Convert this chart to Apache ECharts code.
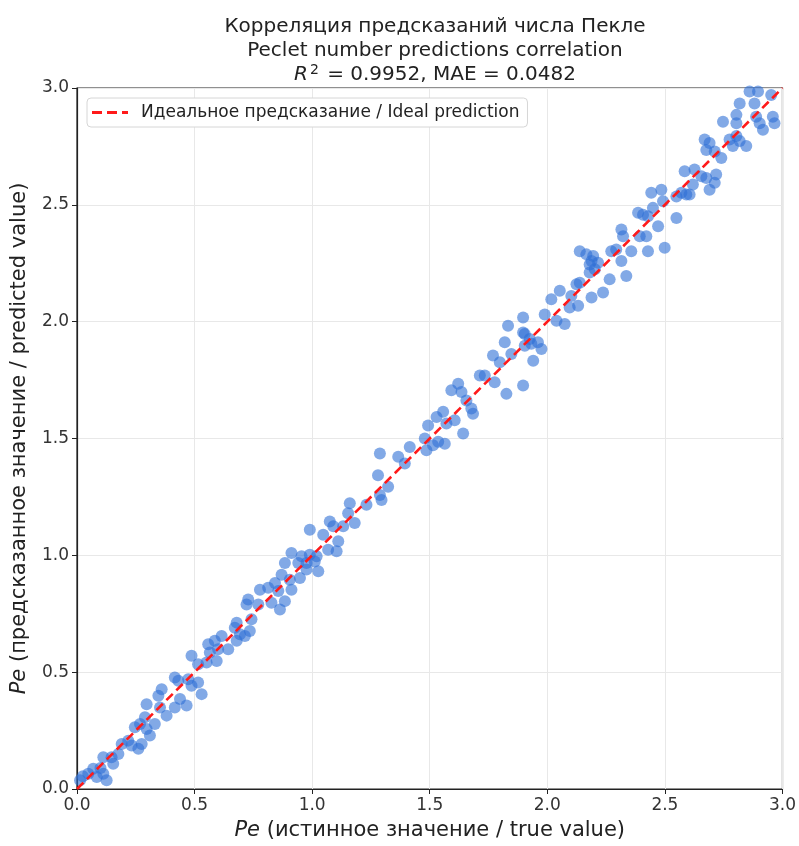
<!DOCTYPE html>
<html>
<head>
<meta charset="utf-8">
<script src="https://cdn.jsdelivr.net/npm/echarts@6/dist/echarts.min.js"></script>
<style>
  html, body { margin: 0; padding: 0; background: #fff; }
  #chart { width: 799px; height: 846px; }
</style>
</head>
<body>
<div id="chart"></div>
<script>
// true (x) and predicted (y) Peclet numbers
const trueValues = [
  0.013, 0.048, 0.069, 0.084, 0.112, 0.126, 0.112, 0.147, 0.154, 0.176, 0.190, 0.218, 0.232, 0.261, 0.275,
  0.246, 0.268, 0.289, 0.296, 0.310, 0.331, 0.296, 0.346, 0.360, 0.353, 0.381, 0.416, 0.438, 0.466, 0.416,
  0.431, 0.473, 0.487, 0.515, 0.530, 0.487, 0.515, 0.551, 0.558, 0.586, 0.600, 0.594, 0.615, 0.643, 0.671,
  0.679, 0.714, 0.735, 0.742, 0.565, 0.693, 0.679, 0.025, 0.100,
  0.728, 0.721, 0.771, 0.778, 0.813, 0.842, 0.856, 0.827, 0.863, 0.884, 0.870, 0.905, 0.912, 0.884, 0.912,
  0.941, 0.955, 0.976, 0.990, 0.948, 0.976, 1.011, 1.026, 1.019, 0.990, 1.047, 1.075, 1.090, 1.068, 1.104,
  1.111, 1.132, 1.153, 1.181, 1.160, 1.231,
  1.288, 1.295, 1.323, 1.280, 1.288, 1.366, 1.415, 1.394, 1.479, 1.493, 1.486, 1.514, 1.536, 1.564, 1.529,
  1.557, 1.571, 1.606, 1.642, 1.592, 1.621, 1.635, 1.656, 1.677, 1.684, 1.713, 1.734, 1.776, 1.826, 1.769,
  1.798, 1.819, 1.847, 1.897, 1.904, 1.897,
  1.833, 1.897, 1.904, 1.925, 1.932, 1.960, 1.975, 1.940, 1.989, 2.017, 2.039, 2.074, 2.053, 2.095, 2.102,
  2.124, 2.138, 2.131, 2.188, 2.180, 2.180, 2.237, 2.265, 2.138, 2.166, 2.195, 2.188, 2.216, 2.202, 2.272,
  2.293, 2.315, 2.322, 2.315, 2.336, 2.357, 2.386, 2.407, 2.428, 2.449, 2.393, 2.421, 2.428, 2.471, 2.499,
  2.549, 2.492,
  2.442, 2.485, 2.549, 2.570, 2.591, 2.605, 2.584, 2.626, 2.619, 2.655, 2.676, 2.690, 2.712, 2.718, 2.676,
  2.669, 2.690, 2.712, 2.740, 2.747, 2.775, 2.789, 2.804, 2.818, 2.846, 2.804, 2.818, 2.804, 2.881, 2.888,
  2.903, 2.917, 2.959, 2.966, 2.860, 2.896, 2.952
]
const predValues = [
  0.037, 0.065, 0.087, 0.051, 0.065, 0.037, 0.136, 0.136, 0.108, 0.150, 0.193, 0.207, 0.186, 0.172, 0.193,
  0.264, 0.278, 0.307, 0.257, 0.229, 0.278, 0.363, 0.399, 0.427, 0.349, 0.314, 0.349, 0.385, 0.357, 0.477,
  0.463, 0.470, 0.442, 0.456, 0.406, 0.570, 0.534, 0.541, 0.619, 0.634, 0.598, 0.548, 0.655, 0.598, 0.690,
  0.634, 0.655, 0.676, 0.726, 0.584, 0.662, 0.712, 0.055, 0.090,
  0.811, 0.790, 0.790, 0.853, 0.861, 0.882, 0.847, 0.797, 0.768, 0.804, 0.917, 0.896, 0.853, 0.967, 1.010,
  0.967, 0.996, 0.967, 1.003, 0.903, 0.939, 0.974, 0.932, 0.996, 1.109, 1.088, 1.145, 1.124, 1.024, 1.017,
  1.060, 1.124, 1.180, 1.138, 1.223, 1.216,
  1.258, 1.237, 1.294, 1.343, 1.436, 1.422, 1.464, 1.393, 1.500, 1.556, 1.450, 1.471, 1.486, 1.478, 1.592,
  1.614, 1.564, 1.578, 1.521, 1.706, 1.734, 1.699, 1.663, 1.628, 1.606, 1.770, 1.770, 1.741, 1.691, 1.855,
  1.826, 1.912, 1.862, 1.727, 1.897, 1.954,
  1.983, 2.018, 1.947, 1.926, 1.905, 1.912, 1.883, 1.833, 2.031, 2.096, 2.004, 1.990, 2.132, 2.061, 2.110,
  2.160, 2.167, 2.068, 2.103, 2.210, 2.245, 2.125, 2.181, 2.301, 2.288, 2.281, 2.260, 2.252, 2.224, 2.301,
  2.309, 2.394, 2.366, 2.260, 2.195, 2.301, 2.466, 2.458, 2.451, 2.487, 2.366, 2.366, 2.301, 2.408, 2.316,
  2.444, 2.515,
  2.552, 2.565, 2.536, 2.552, 2.544, 2.544, 2.644, 2.651, 2.587, 2.622, 2.615, 2.565, 2.594, 2.630, 2.735,
  2.780, 2.765, 2.728, 2.700, 2.856, 2.780, 2.752, 2.795, 2.773, 2.752, 2.885, 2.934, 2.849, 2.934, 2.877,
  2.849, 2.821, 2.877, 2.849, 2.985, 2.985, 2.970
]
const idealLine = [[0, 0], [3, 3]]
const axisTicks = [0, 0.5, 1.0, 1.5, 2.0, 2.5, 3.0]

const points = trueValues.map((x, i) => [x, predValues[i]])

const chart = echarts.init(document.getElementById('chart'), null, { renderer: 'canvas' })
const font = 'DejaVu Sans'

const axisCommon = {
  type: 'value',
  min: axisTicks[0],
  max: axisTicks[axisTicks.length - 1],
  interval: 0.5,
  axisLine: { show: true, lineStyle: { color: '#222', width: 1.2 } },
  axisTick: { show: true, inside: false, length: 5, lineStyle: { color: '#222' } },
  axisLabel: {
    fontFamily: font, fontSize: 17, color: '#333', margin: 8,
    formatter: v => v.toFixed(1)
  },
  splitLine: { show: true, lineStyle: { color: '#e8e8e8', width: 1 } },
  nameLocation: 'middle',
  nameTextStyle: {
    fontFamily: font, fontSize: 21, color: '#222',
    rich: { i: { fontFamily: font, fontSize: 21, fontStyle: 'italic', color: '#222' } }
  }
}

const option = {
  backgroundColor: '#fff',
  animation: false,
  title: {
    text: 'Корреляция предсказаний числа Пекле\nPeclet number predictions correlation\n{i|R}{sup|2} = 0.9952, MAE = 0.0482',
    left: 430,
    top: 10,
    textAlign: 'center',
    textStyle: {
      fontFamily: font, fontSize: 20, fontWeight: 'normal', color: '#222', lineHeight: 24,
      rich: {
        i: { fontFamily: font, fontSize: 20, fontStyle: 'italic', color: '#222', lineHeight: 24 },
        sup: { fontFamily: font, fontSize: 14, color: '#222', lineHeight: 14, verticalAlign: 'top', padding: [0, 2, 0, 2] }
      }
    }
  },
  grid: {
    left: 77, right: 16, top: 88, bottom: 54,
    show: true, borderColor: '#222', borderWidth: 1.2, backgroundColor: 'transparent'
  },
  legend: {
    left: 87, top: 98,
    orient: 'vertical',
    backgroundColor: '#fff',
    borderColor: '#d6d6d6', borderWidth: 1, borderRadius: 4,
    padding: [6, 8, 6, 5],
    itemWidth: 36, itemHeight: 3, itemGap: 6,
    textStyle: { fontFamily: font, fontSize: 17, color: '#222', lineHeight: 17, padding: [0, 0, 0, 8] },
    data: [{
      name: 'Идеальное предсказание / Ideal prediction',
      icon: 'path://M0,0h10v3h-10z M15,0h10v3h-10z M30,0h6v3h-6z',
      itemStyle: { color: '#ff1a1a' }
    }]
  },
  xAxis: Object.assign({}, axisCommon, {
    name: '{i|Pe} (истинное значение / true value)',
    nameGap: 31
  }),
  yAxis: Object.assign({}, axisCommon, {
    name: '{i|Pe} (предсказанное значение / predicted value)',
    nameGap: 47
  }),
  series: [
    {
      name: 'points',
      type: 'scatter',
      data: points,
      symbolSize: 12,
      itemStyle: { color: '#2f6fd6', opacity: 0.6 },
      emphasis: { disabled: true },
      z: 2
    },
    {
      name: 'Идеальное предсказание / Ideal prediction',
      type: 'line',
      data: idealLine,
      symbol: 'none',
      lineStyle: { color: '#ff1a1a', width: 2.6, type: [9, 5] },
      itemStyle: { color: '#ff1a1a' },
      z: 3
    }
  ]
}

chart.setOption(option)
</script>
</body>
</html>
